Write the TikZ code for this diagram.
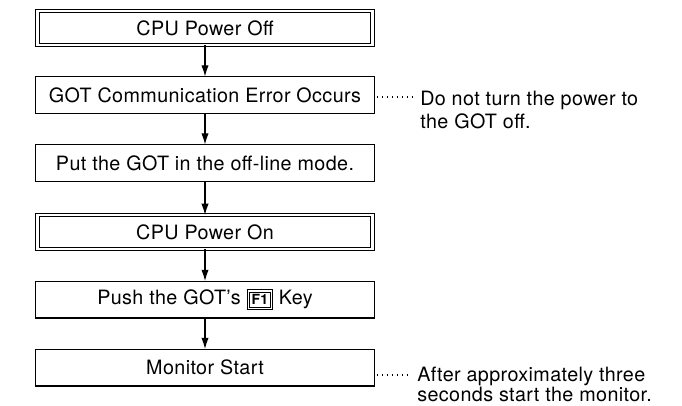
\documentclass[tikz,border=0pt]{standalone}
\usepackage{fontspec}
\setmainfont{TeX Gyre Heros}[LetterSpace=2]
\usepackage{tikz}
\usetikzlibrary{arrows.meta}
\newcommand{\gotkey}[1]{{\fontsize{10.5}{11}\selectfont\setlength{\fboxrule}{0.6pt}\setlength{\fboxsep}{1pt}\fbox{\setlength{\fboxsep}{1.5pt}\fbox{\bfseries #1}}}}
\tikzset{
	stepbox/.style={draw, line width=0.9pt, minimum width=254pt, minimum height=27.6pt, inner sep=0pt, outer sep=0pt, font=\fontsize{14.8}{17}\selectfont},
	powerbox/.style={stepbox, double, double distance=2.2pt, line width=0.75pt, minimum width=251pt, minimum height=25.5pt},
	flowarrow/.style={line width=0.9pt, -{Latex[length=8.5pt,width=5.5pt]}},
	dotline/.style={line width=0.9pt, dash pattern=on 0.9pt off 2.8pt, shorten <=2pt},
	note/.style={anchor=north west, align=left, inner sep=0pt, font=\fontsize{14.8}{17}\selectfont}
}

\begin{document}
\begin{tikzpicture}[x=0.75pt, y=-0.75pt]
			%%%%% START %%%%%
			\useasboundingbox (0, 0) rectangle (682, 405);
			
			\node[powerbox] (cpuoff) at (205, 28) {CPU Power Off};
			\node[stepbox] (goterr) at (205, 95) {GOT Communication Error Occurs};
			\node[stepbox] (offline) at (205, 163) {Put the GOT in the off-line mode.};
			\node[powerbox] (cpuon) at (205, 232) {CPU Power On};
			\node[stepbox] (pushkey) at (205, 299.5) {Push the GOT's \gotkey{F1} Key};
			\node[stepbox] (monitor) at (205, 367.5) {Monitor Start};
			
			\draw[flowarrow] (cpuoff) -- (goterr);
			\draw[flowarrow] (goterr) -- (offline);
			\draw[flowarrow] (offline) -- (cpuon);
			\draw[flowarrow] (cpuon) -- (pushkey);
			\draw[flowarrow] (pushkey) -- (monitor);
			
			\node[note] (errnote) at (420, 91) {Do not turn the power to\\the GOT off.};
			\coordinate (errdot) at (412, 97);
			\draw[dotline] (goterr.east |- errdot) -- (errdot);
			
			\node[note, font=\fontsize{14.8}{13}\selectfont] (monnote) at (417, 367) {After approximately three\\seconds start the monitor.};
			\coordinate (mondot) at (408, 375);
			\draw[dotline] (monitor.east |- mondot) -- (mondot);
			
			%%%%% END %%%%%
		\end{tikzpicture}
\end{document}
